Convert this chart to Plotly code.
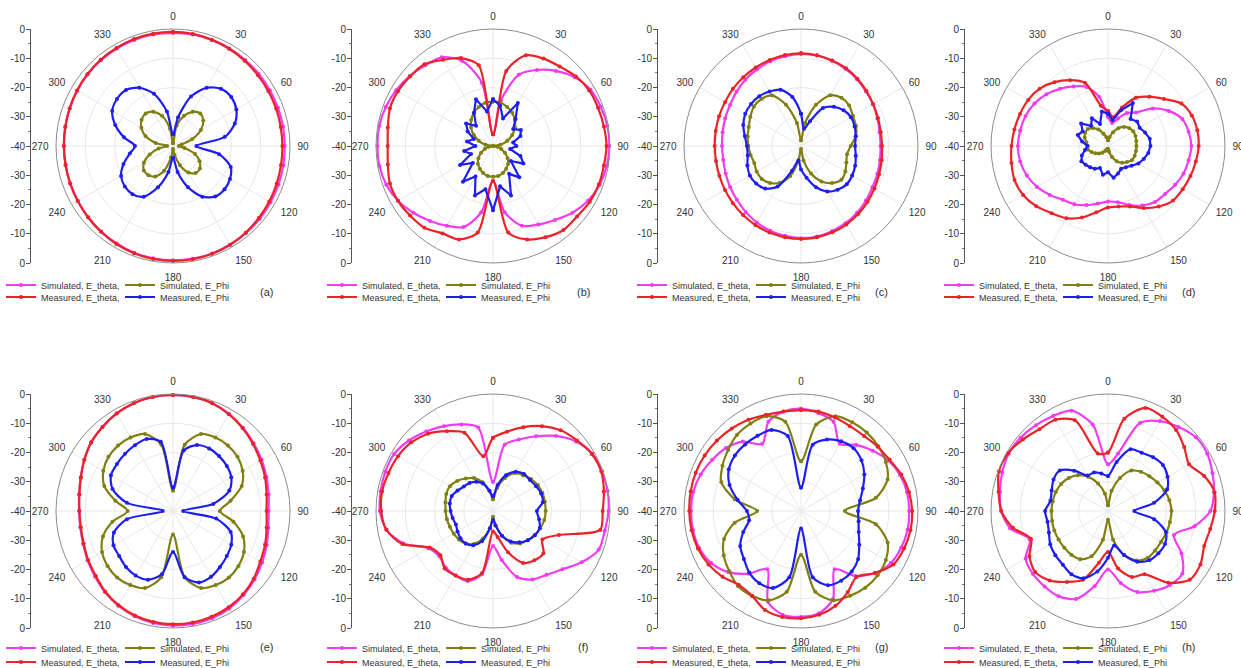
import plotly.graph_objects as go

W, H = 1241, 668
ANGLES = list(range(0, 360, 10))
TICK_ANG = list(range(0, 360, 30))

# ---------------- data (dB, at 0,10,...,350 deg) ----------------
a_sim_theta = [-1.3,-1.3,-1.4,-1.5,-1.6,-1.7,-1.8,-1.8,-1.8,-1.8,-1.7,-1.6,-1.5,-1.3,-1.2,-1.0,-0.9,-0.9,
               -0.9,-1.0,-1.2,-1.5,-1.8,-2.1,-2.4,-2.6,-2.7,-2.7,-2.6,-2.4,-2.2,-1.9,-1.7,-1.5,-1.4,-1.3]
a_sim_phi = [-39,-33,-29,-26.5,-25.5,-26.5,-29,-33,-37,-38,-36,-32,-29.5,-28,-28,-29.5,-33,-37,
             -39,-36,-31,-28,-27,-27,-28.5,-31.5,-35,-38,-34,-30,-27.5,-26,-25.5,-26.5,-29,-34]
a_meas_theta = [-1.0,-1.1,-1.3,-1.6,-1.9,-2.2,-2.4,-2.5,-2.6,-2.6,-2.5,-2.3,-2.0,-1.7,-1.3,-1.0,-0.8,-0.7,
                -0.7,-0.8,-1.0,-1.3,-1.7,-2.1,-2.4,-2.6,-2.7,-2.7,-2.6,-2.4,-2.1,-1.8,-1.5,-1.3,-1.1,-1.0]
a_meas_phi = [-36,-30,-22,-17,-14.5,-14,-15,-17.5,-22,-32,-24,-19,-17.5,-17,-17.5,-20,-25,-31,
              -36,-31,-25,-20,-18.5,-18.5,-19.5,-22,-25,-27,-23,-19,-16,-15,-15,-17,-21,-28]

b_sim_theta = [-36,-24,-14,-10,-6.5,-3.5,-1.5,-0.8,-0.3,-0.2,-0.5,-1.2,-2.5,-4.5,-7,-9,-11,-17,
               -28,-17,-10.5,-8.5,-6.5,-4.5,-2.5,-1.2,-0.6,-0.5,-0.5,-1,-1.8,-2.8,-4,-5,-9,-18]
b_sim_phi = [-24.8,-25,-25.8,-26.9,-28.4,-30.2,-32.4,-34.8,-37.4,-40,-38.5,-37,-35.3,-33.5,-32,-31,-30.2,-29.6,
             -29.5,-29.6,-30.2,-31,-32,-33.5,-35.3,-37,-38.5,-40,-37.4,-34.8,-32.4,-30.2,-28.4,-26.9,-25.8,-25]
b_meas_theta = [-36,-14,-7,-5.5,-4.5,-3,-2,-1.8,-1.5,-1.2,-1.5,-1.5,-1.8,-2.5,-2.5,-4,-6,-10,
                -28,-10,-6,-5.5,-3.5,-3,-2.5,-2.5,-3.5,-4,-3.5,-2.5,-2.5,-3,-3.5,-6,-8,-12]
b_meas_phi = [-24,-26,-30,-23,-28,-31,-29,-30,-33,-32,-34,-30,-28,-32,-26,-29,-22,-26,
              -18,-25,-22,-28,-24,-31,-27,-32,-30,-34,-31,-33,-30,-28,-31,-27,-23,-28]

c_sim_theta = [-8.5,-8.6,-9,-9.5,-10.2,-11,-11.5,-12.2,-12.7,-12.8,-12.6,-12.2,-11.8,-11,-10.2,-9.5,-9,-8.6,
               -8.5,-8.8,-9.2,-9.8,-10.6,-11.4,-12,-12.6,-13,-13,-12.8,-12.4,-12,-11.2,-10.4,-9.8,-9.2,-8.8]
c_sim_phi = [-38,-32,-25,-20,-18.5,-18.5,-19.5,-20,-21,-23,-24,-23.5,-22.5,-22,-23.5,-26,-30,-35,
             -39,-35,-29,-25.5,-23.5,-22.5,-22.5,-23,-22.5,-22,-21.5,-21,-20,-19,-19,-20,-25,-32]
c_meas_theta = [-8.3,-8.5,-8.9,-9.3,-10,-10.8,-11.5,-12,-12.3,-12.3,-12,-11.6,-11,-10.3,-9.6,-9,-8.6,-8.3,
                -8.2,-8.3,-8.5,-8.8,-9.2,-9.6,-10,-10.3,-10.5,-10.5,-10.4,-10.2,-10,-9.6,-9.3,-9,-8.7,-8.4]
c_meas_phi = [-29,-34,-31,-25,-22.5,-21,-20.3,-20.5,-21,-21.5,-21,-20.3,-19.8,-19.6,-20.5,-22,-25,-29,
              -32,-35,-31,-24,-21,-20,-19.8,-20.5,-21.5,-21.5,-20.5,-19,-18,-17.7,-17.8,-18.5,-19.5,-23]

d_sim_theta = [-30,-32,-30,-27,-25,-20,-16,-13,-12,-11.5,-12,-12.5,-13.5,-14.5,-15,-16.5,-18.5,-20.5,
               -21,-20,-18.5,-17,-16,-14,-12,-10.5,-9.5,-9.2,-9.5,-10,-11,-12.5,-14.5,-16.5,-18.5,-23]
d_sim_phi = [-38,-37,-35,-33,-31.5,-30.5,-30,-30,-30.2,-30.3,-30.3,-30.3,-30.5,-31.5,-32.5,-34,-36,-38,
             -39,-39,-38.5,-38,-37,-36,-35,-34,-33,-33,-32.5,-31.5,-31,-31,-32,-33.5,-35.5,-37]
d_meas_theta = [-28,-30,-26,-21,-18,-15,-11,-9.5,-9,-9,-9.5,-10,-10.5,-11,-13,-15.5,-18,-19,
                -19,-17,-14,-11.5,-10,-8,-6.5,-6,-6.5,-7,-7.5,-8,-8.5,-9.5,-11.5,-14,-17,-26]
d_meas_phi = [-29,-31,-27,-23,-28,-27,-27.5,-26.5,-25.5,-25.5,-26,-27,-28,-29.5,-30.5,-31,-30,-29,
              -31,-30,-32,-31,-30.5,-30,-29.5,-30.5,-32,-33,-31,-29,-30,-28,-31,-29,-32,-28]

e_sim_theta = [-0.3,-0.4,-0.8,-1.7,-2.8,-4,-5,-6,-6.8,-7.3,-6.9,-5.9,-4.8,-3.6,-2.5,-1.5,-1,-0.8,
               -0.8,-1.1,-1.7,-2.6,-3.8,-5.2,-6.3,-7.3,-7.8,-7.9,-7.4,-6.4,-5,-3.5,-2.5,-1.5,-0.8,-0.4]
e_sim_phi = [-33,-17,-12,-11,-10.8,-11.2,-12.5,-15,-20,-24,-19,-14.5,-12,-10.8,-10.3,-10.8,-12,-17,
             -32,-17,-12,-10.8,-10.3,-10.8,-12,-14.5,-19,-24.5,-20,-15,-12.5,-11.2,-10.8,-11,-12,-17]
e_meas_theta = [-0.3,-0.4,-0.8,-1.8,-3,-4.3,-5.5,-6.5,-7.5,-8,-7.5,-6.5,-5.5,-4,-2.8,-2,-1.5,-1.3,
                -1.3,-1.5,-2,-2.8,-4,-5.5,-6.5,-7.5,-8,-8,-7.5,-6.5,-5,-3.5,-2.5,-1.5,-0.8,-0.4]
e_meas_phi = [-32,-19,-16,-15.3,-15.5,-16,-17,-19.5,-26,-36.5,-25,-19,-17,-16,-15,-14,-14,-17,
              -26,-18,-15,-14.5,-15,-16,-16.5,-18.5,-24,-36.5,-24,-18,-15.5,-15,-14.5,-14,-13.8,-16]

f_sim_theta = [-30,-17,-14,-10.5,-6.5,-3,-0.8,-0.3,-0.2,-0.5,-1.2,-1.5,-5,-9,-11.5,-13,-16,-23,
               -28,-18,-14.5,-14.5,-14.8,-16,-14.5,-7.5,-3,-1.3,-1,-0.8,-1,-2.5,-4.5,-6.5,-8.5,-11]
f_sim_phi = [-36,-32,-28,-25,-24,-23,-22.3,-22,-22,-22,-22.2,-22.8,-23.5,-24.5,-25.5,-27.5,-31,-35,
             -38,-34,-30,-27,-25.5,-24.8,-24.5,-24.3,-24,-23.8,-23.5,-23,-23,-24,-25.5,-27,-29.5,-33]
f_meas_theta = [-15,-12.5,-9.5,-6.5,-4,-2.5,-1,-0.6,-1.5,-2.5,-2.8,-16,-20.5,-17.5,-18,-19.5,-25,-31,
                -33,-18.5,-15,-14.5,-14.3,-16.5,-15,-7,-3,-1.8,-1.5,-2,-2.5,-3.5,-5.5,-8.5,-11.5,-21]
f_meas_phi = [-35,-31,-27,-24.5,-23.5,-23.5,-23,-22.5,-22.7,-25,-24,-23,-23.5,-24.5,-26,-28,-31,-35,
              -37,-34,-29,-26.5,-25.5,-25.5,-26,-26.5,-26,-25.5,-25,-25,-26,-27,-27.5,-28.5,-30,-33]

g_sim_theta = [-5,-6,-7.5,-13.5,-10.5,-8,-5.5,-4,-3.2,-3,-3,-3.5,-4.5,-7,-11,-17,-8,-4.5,
               -3.8,-4,-7,-17,-12,-7.5,-4.5,-3,-2.5,-2.4,-2.6,-3.5,-5,-6.5,-9,-13.5,-7.5,-5.5]
g_sim_phi = [-23,-10,-5.5,-5,-5,-5.5,-6.5,-8.5,-14,-25,-14,-8.5,-6.5,-5.8,-5.8,-6.5,-7.5,-12,
             -25,-12,-7.5,-6.5,-6.5,-8,-9.5,-12,-17,-25,-17,-11,-9,-7.5,-6,-5.5,-5.5,-9]
g_meas_theta = [-5.5,-5.5,-6,-6.5,-6.5,-5.8,-5,-3.5,-2.5,-2,-2,-2.5,-3.5,-7,-10.5,-8,-5.5,-4,
                -3.3,-3.2,-4,-6.5,-7,-5,-3.5,-2.5,-2,-1.8,-1.7,-1.7,-2,-2.5,-3.2,-4,-5,-5.5]
g_meas_phi = [-32,-17,-14,-12.5,-12,-13,-15,-17.5,-19.5,-20.5,-20,-19,-17,-14.5,-13,-12.5,-13,-17,
              -34,-17,-12,-11.5,-12.5,-14.5,-16,-19,-22,-21.5,-18,-14,-11.5,-10.5,-10.3,-10.3,-10.5,-14]

h_sim_theta = [-24,-20,-8,-4.5,-2.5,-0.8,-0.8,-2,-3.2,-5,-10,-16,-11,-6.8,-7,-8.5,-10.5,-15,
               -20,-14,-8,-6.3,-6.3,-6.5,-7.5,-11.5,-6,-3.5,-2.5,-1.5,-0.8,-1,-1.7,-2.5,-3.5,-10]
h_sim_phi = [-38,-33,-28,-24,-22.5,-21.5,-20.5,-19.5,-18.7,-18.3,-18.5,-18.7,-19,-19,-19,-20.5,-24,-30,
             -37,-30,-23.5,-21,-20.5,-20.5,-20.5,-20.5,-20.6,-20.7,-20.8,-21,-21.5,-22.5,-24,-26.5,-30,-34]
h_meas_theta = [-20,-8,-2.5,-2.8,-3.8,-6,-8,-5,-3,-3.5,-4.5,-5,-3.5,-3.5,-8,-15,-16,-20,
                -26,-22,-15,-12,-9,-7.5,-9,-12,-7,-3.5,-2,-0.3,-0.5,-2,-3.5,-4,-7,-20]
h_meas_phi = [-28,-23,-17.5,-17,-16,-15.5,-16.5,-18.5,-24,-31,-24,-19,-17.5,-17.5,-18,-20,-24,-28,
              -24,-19,-15.5,-15,-16,-16.5,-17.2,-18.5,-19,-18.5,-20,-19.5,-18.5,-18.5,-22,-26,-26,-27]

PANEL_LABELS = ["(a)", "(b)", "(c)", "(d)", "(e)", "(f)", "(g)", "(h)"]
SERIES_NAMES = ["Simulated, E_theta,", "Simulated, E_Phi", "Measured, E_theta,", "Measured, E_Phi"]
RADIAL_TICKS = [-40, -30, -20, -10, 0, 10, 20, 30, 40]
RADIAL_TEXT = ["0", "-10", "-20", "-30", "-40", "-30", "-20", "-10", "0"]

panels = [
    (a_sim_theta, a_sim_phi, a_meas_theta, a_meas_phi),
    (b_sim_theta, b_sim_phi, b_meas_theta, b_meas_phi),
    (c_sim_theta, c_sim_phi, c_meas_theta, c_meas_phi),
    (d_sim_theta, d_sim_phi, d_meas_theta, d_meas_phi),
    (e_sim_theta, e_sim_phi, e_meas_theta, e_meas_phi),
    (f_sim_theta, f_sim_phi, f_meas_theta, f_meas_phi),
    (g_sim_theta, g_sim_phi, g_meas_theta, g_meas_phi),
    (h_sim_theta, h_sim_phi, h_meas_theta, h_meas_phi),
]
noisy = {1: [3], 3: [3]}   # panel index -> series drawn with straight segments

COLORS = ["#f03cf0", "#808012", "#ea2328", "#1e1ef0"]

# ---------------- geometry (pixels) ----------------
CX = [173, 493, 801, 1108]
CY = [146, 511]
R = 117
AXIS_X = [31, 352, 658, 965]
LEG_X = [1, 322, 632, 939]
LEG_Y = [[285, 297], [648, 662]]
LABEL_X = [258, 583, 890, 1197]
LABEL_Y = [292, 655]

def px(x):
    return x / W

def py(y):
    return 1 - y / H

fig = go.Figure()
layout = dict(
    width=W, height=H, margin=dict(l=0, r=0, t=0, b=0, autoexpand=False),
    paper_bgcolor="white", plot_bgcolor="white",
    font=dict(family="Liberation Sans, Arial, sans-serif", size=9, color="#333333"),
    annotations=[],
)

for i, series in enumerate(panels):
    col, row = i % 4, i // 4
    cx, cy = CX[col], CY[row]
    pname = "polar" if i == 0 else f"polar{i+1}"
    leg1 = "legend" if i == 0 else f"legend{2*i+1}"
    leg2 = f"legend{2*i+2}"
    for s, vals in enumerate(series):
        theta = ANGLES + [360]
        r = list(vals) + [vals[0]]
        shape = "linear" if s in noisy.get(i, []) else "spline"
        fig.add_trace(go.Scatterpolar(
            r=r, theta=theta, subplot=pname, mode="lines+markers",
            name=SERIES_NAMES[s],
            line=dict(color=COLORS[s], width=2.2, shape=shape, smoothing=0.8),
            marker=dict(color=COLORS[s], size=4),
            legend=leg1 if s in (0, 1) else leg2,
            hoverinfo="skip",
        ))
    layout[pname] = dict(
        domain=dict(x=[px(cx - R), px(cx + R)], y=[py(cy + R), py(cy - R)]),
        bgcolor="white",
        angularaxis=dict(
            rotation=90, direction="clockwise", tickmode="array",
            tickvals=TICK_ANG, ticktext=[str(a) for a in TICK_ANG],
            showline=True, linecolor="#8c8c8c", linewidth=1,
            showgrid=True, gridcolor="#e8e8e8", gridwidth=1,
            ticks="outside", ticklen=5, tickcolor="rgba(0,0,0,0)",
            tickfont=dict(size=10, color="#333333"),
        ),
        radialaxis=dict(
            range=[-40, 0], tickvals=[-30, -20, -10], showticklabels=False,
            showline=False, ticks="", showgrid=True, gridcolor="#e8e8e8",
        ),
    )
    # the left radial scale drawn as a cartesian axis
    xa = "xaxis" if i == 0 else f"xaxis{i+1}"
    ya = "yaxis" if i == 0 else f"yaxis{i+1}"
    xref = "x" if i == 0 else f"x{i+1}"
    yref = "y" if i == 0 else f"y{i+1}"
    ax = AXIS_X[col]
    layout[xa] = dict(domain=[px(ax), px(ax + 2)], visible=False, range=[0, 1], anchor=yref)
    layout[ya] = dict(
        domain=[py(cy + R), py(cy - R)], range=[-40, 40], anchor=xref,
        tickmode="array", tickvals=RADIAL_TICKS, ticktext=RADIAL_TEXT,
        showline=True, linecolor="#555555", linewidth=1,
        ticks="outside", ticklen=4, tickcolor="#555555", ticklabelstandoff=-1,
        minor=dict(ticks="outside", ticklen=2, dtick=5, tickcolor="#777777"),
        showgrid=False, zeroline=False, tickfont=dict(size=10, color="#333333"),
    )
    fig.add_trace(go.Scatter(x=[None], y=[None], xaxis=xref, yaxis=yref,
                             showlegend=False, hoverinfo="skip"))
    for k, lg in enumerate([leg1, leg2]):
        layout[lg] = dict(
            x=px(LEG_X[col]), y=py(LEG_Y[row][k]), xanchor="left", yanchor="middle",
            orientation="h", font=dict(size=9, color="#333333"),
            bgcolor="rgba(0,0,0,0)", borderwidth=0, itemwidth=30,
            entrywidth=74, entrywidthmode="pixels", tracegroupgap=0,
        )
    layout["annotations"].append(dict(
        text=PANEL_LABELS[i], x=px(LABEL_X[col]), y=py(LABEL_Y[row]),
        xref="paper", yref="paper", showarrow=False, font=dict(size=11, color="#333333"),
    ))

fig.update_layout(**layout)
fig.write_html("out.html")
